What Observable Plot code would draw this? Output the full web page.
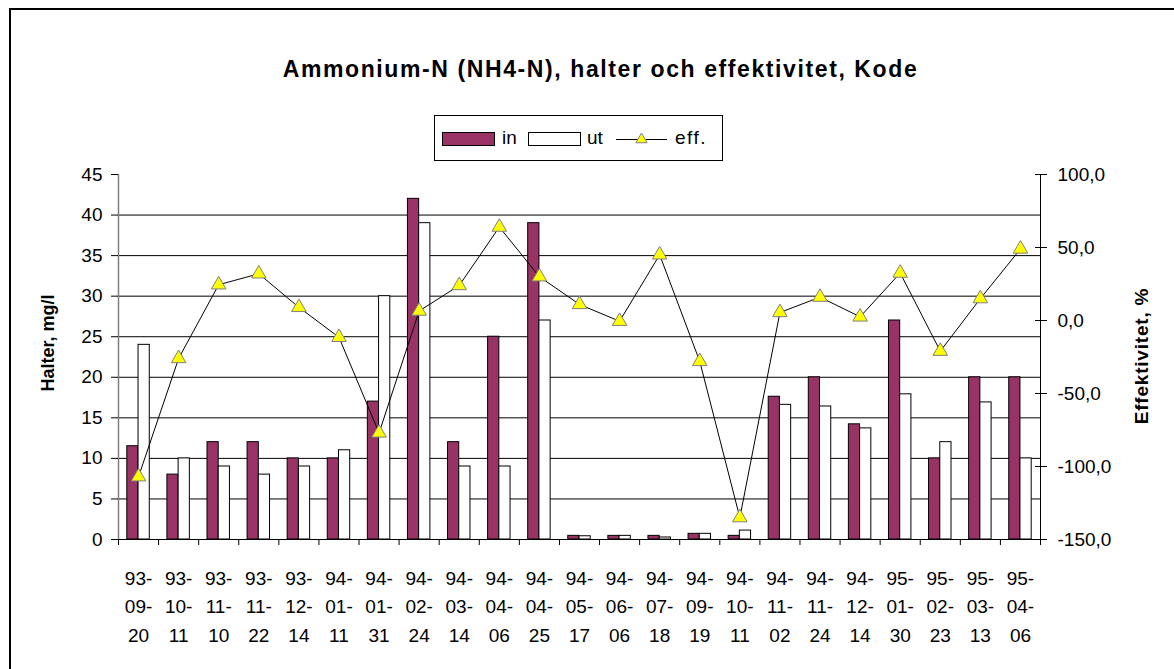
<!DOCTYPE html>
<html><head><meta charset="utf-8">
<script src="https://cdn.jsdelivr.net/npm/d3@7"></script>
<script src="https://cdn.jsdelivr.net/npm/@observablehq/plot@0.6"></script>
<style>
body{margin:0;background:#fff;font-family:"Liberation Sans",Arial,sans-serif;}
#wrap{position:relative;width:1174px;height:669px;overflow:hidden;background:#fff;}
#frame{position:absolute;left:9px;top:8px;width:2000px;height:2000px;border-left:2px solid #000;border-top:2px solid #000;}
.t{position:absolute;line-height:1;white-space:nowrap;}
#title{left:0;width:1201px;top:58px;text-align:center;font-weight:bold;font-size:23px;letter-spacing:1.6px;}
#legend{position:absolute;left:434px;top:115px;}
#ylab{left:48px;top:343px;font-weight:bold;font-size:18px;transform:translate(-50%,-50%) rotate(-90deg);}
#ylab2{left:1141px;top:356px;font-weight:bold;font-size:19px;transform:translate(-50%,-50%) rotate(-90deg);letter-spacing:0.8px;}
#chart{position:absolute;left:0;top:150px;}
</style></head>
<body><div id="wrap">
<div id="frame"></div>
<div class="t" id="title">Ammonium-N (NH4-N), halter och effektivitet, Kode</div>
<div id="legend"></div>
<div class="t" id="ylab">Halter, mg/l</div>
<div class="t" id="ylab2">Effektivitet, %</div>
<div id="chart"></div>
</div>
<script>
const dates = ["93-09-20","93-10-11","93-11-10","93-11-22","93-12-14","94-01-11","94-01-31","94-02-24","94-03-14","94-04-06","94-04-25","94-05-17","94-06-06","94-07-18","94-09-19","94-10-11","94-11-02","94-11-24","94-12-14","95-01-30","95-02-23","95-03-13","95-04-06"];
const inValues = [11.5, 8, 12, 12, 10, 10, 17, 42, 12, 25, 39, 0.45, 0.45, 0.45, 0.7, 0.45, 17.6, 20, 14.2, 27, 10, 20, 20];
const utValues = [24, 10, 9, 8, 9, 11, 30, 39, 9, 9, 27, 0.4, 0.45, 0.25, 0.7, 1.1, 16.6, 16.4, 13.7, 17.9, 12, 16.9, 10];
const effValues = [-107, -26, 24.5, 32, 9, -11.5, -77, 6.5, 24, 64, 30, 11, -0.5, 45, -28, -135, 5.5, 16, 2.5, 32.5, -21, 15, 49];
const leftTicks = [0, 5, 10, 15, 20, 25, 30, 35, 40, 45];
const rightTicks = [-150, -100, -50, 0, 50, 100];
const seriesNames = ["in", "ut", "eff."];

const IN_COLOR = "#993366";
const FONT = "Liberation Sans, Arial, sans-serif";
// map efficiency (-150..100 %) onto the left axis range (0..45 mg/l)
const toLeft = e => (e + 150) * 45 / 250;
const fromLeft = y => y * 250 / 45 - 150;

const rows = dates.map((d, i) => ({i, date: d, vin: inValues[i], vut: utValues[i], eff: effValues[i]}));
const hw = 0.28;

const chart = Plot.plot({
  width: 1174,
  height: 519,
  marginTop: 24,
  marginBottom: 130,
  marginLeft: 118,
  marginRight: 134,
  style: {fontFamily: FONT, fontSize: "19px", background: "transparent", color: "#000"},
  x: {type: "linear", domain: [-0.5, dates.length - 0.5]},
  y: {type: "linear", domain: [0, 45]},
  marks: [
    Plot.ruleY(leftTicks.filter(v => v > 0 && v < 45), {stroke: "#000", strokeWidth: 1}),
    Plot.rectY(rows, {x1: d => d.i - hw, x2: d => d.i, y1: 0, y2: "vin", fill: IN_COLOR, stroke: "#000", strokeWidth: 1}),
    Plot.rectY(rows, {x1: d => d.i, x2: d => d.i + hw, y1: 0, y2: "vut", fill: "#fff", stroke: "#000", strokeWidth: 1}),
    Plot.ruleY([0], {stroke: "#000", strokeWidth: 1}),
    Plot.ruleX([-0.5], {stroke: "#808080", strokeWidth: 1.5}),
    Plot.ruleX([dates.length - 0.5], {stroke: "#000", strokeWidth: 1}),
    Plot.axisY({anchor: "left", ticks: leftTicks, tickSize: 7, tickPadding: 9, label: null, fontSize: 19}),
    Plot.axisY({anchor: "right", ticks: rightTicks.map(toLeft), tickSize: 6, tickPadding: 11, label: null, fontSize: 19,
      tickFormat: v => fromLeft(v).toFixed(1).replace(".", ",")}),
    Plot.axisY({anchor: "right", ticks: rightTicks.map(toLeft), tickSize: -6, tickFormat: () => "", label: null}),
    Plot.axisX({anchor: "bottom", ticks: d3.range(-0.5, dates.length), tickSize: 6, tickFormat: () => "", label: null}),
    Plot.axisX({anchor: "bottom", ticks: d3.range(dates.length), tickSize: 0, tickPadding: 25, label: null, fontSize: 19, lineHeight: 1.5,
      tickFormat: i => { const p = dates[i].split("-"); return p[0] + "-\n" + p[1] + "-\n" + p[2]; }}),
    Plot.line(rows, {x: "i", y: d => toLeft(d.eff), stroke: "#000", strokeWidth: 1}),
    Plot.dot(rows, {x: "i", y: d => toLeft(d.eff), symbol: "triangle", r: 5.4, fill: "#ffff00", stroke: "#808080", strokeWidth: 1})
  ]
});
document.getElementById("chart").appendChild(chart);

// legend
const lg = d3.select("#legend").append("svg").attr("width", 292).attr("height", 48)
  .style("font-family", FONT).style("font-size", "19px");
lg.append("rect").attr("x", 0.5).attr("y", 0.5).attr("width", 288).attr("height", 45).attr("fill", "#fff").attr("stroke", "#000");
lg.append("rect").attr("x", 8.5).attr("y", 17.5).attr("width", 52).attr("height", 13).attr("fill", IN_COLOR).attr("stroke", "#000");
lg.append("text").attr("x", 68).attr("y", 29).text(seriesNames[0]);
lg.append("rect").attr("x", 94.5).attr("y", 17.5).attr("width", 52).attr("height", 13).attr("fill", "#fff").attr("stroke", "#000");
lg.append("text").attr("x", 153).attr("y", 29).text(seriesNames[1]);
lg.append("line").attr("x1", 182).attr("x2", 233).attr("y1", 24.5).attr("y2", 24.5).attr("stroke", "#000");
lg.append("path").attr("d", d3.symbol(d3.symbolTriangle2, Math.PI * 5.4 * 5.4)()).attr("transform", "translate(207.5,24.5)")
  .attr("fill", "#ffff00").attr("stroke", "#808080");
lg.append("text").attr("x", 241).attr("y", 29).attr("letter-spacing", "1.5px").text(seriesNames[2]);
</script>
</body></html>
